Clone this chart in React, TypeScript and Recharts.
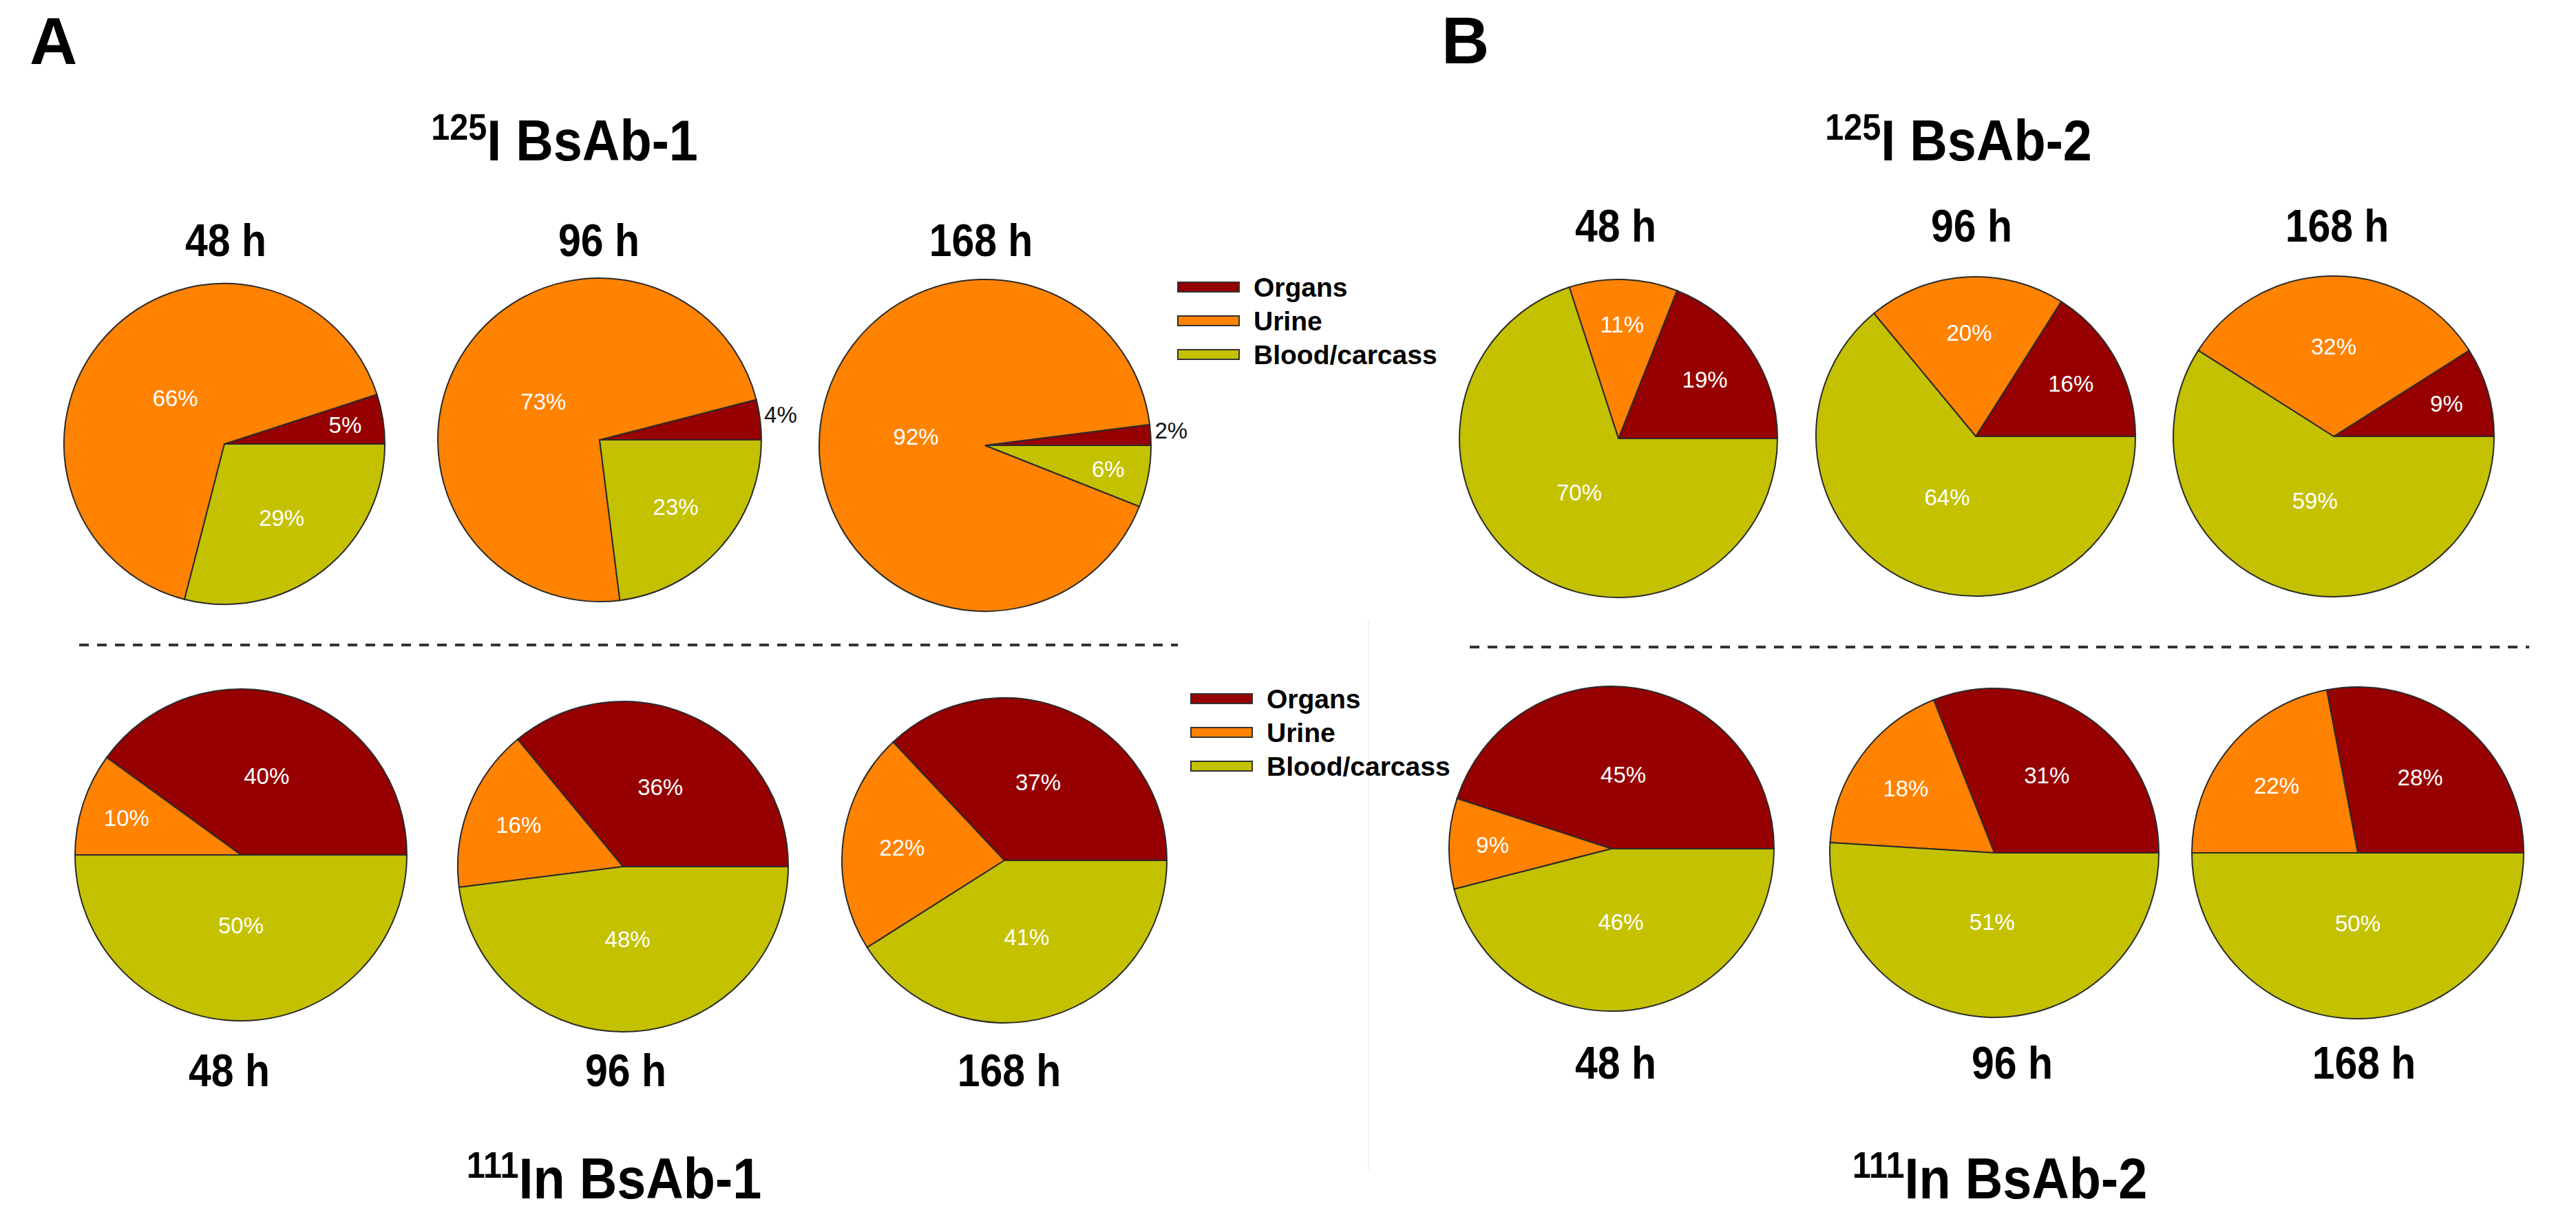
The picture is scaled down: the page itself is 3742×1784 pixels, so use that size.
import React from "react";
import { PieChart, Pie, Cell } from "recharts";

const categories = ["Organs", "Urine", "Blood/carcass"];
const colors = ["#960000", "#FF8200", "#C4C100"];
const timePoints = ["48 h", "96 h", "168 h"];

// 125I BsAb-1 (panel A, top)
const organsI125Ab1 = [5, 4, 2];
const urineI125Ab1 = [66, 73, 92];
const bloodI125Ab1 = [29, 23, 6];

// 111In BsAb-1 (panel A, bottom)
const organsIn111Ab1 = [40, 36, 37];
const urineIn111Ab1 = [10, 16, 22];
const bloodIn111Ab1 = [50, 48, 41];

// 125I BsAb-2 (panel B, top)
const organsI125Ab2 = [19, 16, 9];
const urineI125Ab2 = [11, 20, 32];
const bloodI125Ab2 = [70, 64, 59];

// 111In BsAb-2 (panel B, bottom)
const organsIn111Ab2 = [45, 31, 28];
const urineIn111Ab2 = [9, 18, 22];
const bloodIn111Ab2 = [46, 51, 50];

const W = 3742;
const H = 1784;
const font = "'Liberation Sans', Arial, sans-serif";

const buildPies = (organs, urine, blood) =>
  timePoints.map((t, i) => [
    { name: categories[0], value: organs[i] },
    { name: categories[1], value: urine[i] },
    { name: categories[2], value: blood[i] },
  ]);

// pie centres / radii, row by row
const groups = [
  {
    pies: buildPies(organsI125Ab1, urineI125Ab1, bloodI125Ab1),
    pos: [[326, 645, 233], [871, 639, 235], [1431, 647, 241]],
  },
  {
    pies: buildPies(organsI125Ab2, urineI125Ab2, bloodI125Ab2),
    pos: [[2351, 637, 231], [2870, 634, 232], [3390, 634, 233]],
  },
  {
    pies: buildPies(organsIn111Ab1, urineIn111Ab1, bloodIn111Ab1),
    pos: [[350, 1242, 241], [905, 1259, 240], [1459, 1250, 236]],
  },
  {
    pies: buildPies(organsIn111Ab2, urineIn111Ab2, bloodIn111Ab2),
    pos: [[2341, 1233, 236], [2897, 1239, 239], [3425, 1239, 241]],
  },
];

const RAD = Math.PI / 180;

const renderLabel = (props) => {
  const { cx, cy, midAngle, outerRadius, percent, value } = props;
  if (percent < 0.045) {
    const r = outerRadius + 6;
    return (
      <text
        x={cx + r * Math.cos(-midAngle * RAD)}
        y={cy + r * Math.sin(-midAngle * RAD) - 6}
        fill="#111"
        textAnchor="start"
        dominantBaseline="central"
        fontSize={33}
        fontFamily={font}
      >
        {value}%
      </text>
    );
  }
  const r = outerRadius * Math.max(0.42, 0.8 - 0.75 * percent);
  return (
    <text
      x={cx + r * Math.cos(-midAngle * RAD)}
      y={cy + r * Math.sin(-midAngle * RAD)}
      fill="#fff"
      textAnchor="middle"
      dominantBaseline="central"
      fontSize={33}
      fontFamily={font}
    >
      {value}%
    </text>
  );
};

// bold headings, squeezed horizontally to look like a condensed face
const Title = ({ x, y, sup, main }) => (
  <text
    transform={`translate(${x},${y}) scale(0.9,1)`}
    textAnchor="middle"
    fontFamily={font}
    fontWeight="bold"
    fill="#000"
  >
    <tspan fontSize={54} dy={-30}>{sup}</tspan>
    <tspan fontSize={84} dy={30}>{main}</tspan>
  </text>
);

const Legend = ({ x, y }) => (
  <g>
    {categories.map((c, i) => (
      <g key={c}>
        <rect x={x} y={y + i * 49 - 7} width={89} height={14} fill={colors[i]} stroke="#333" strokeWidth={2} />
        <text x={x + 110} y={y + i * 49} dominantBaseline="central" fontSize={39} fontWeight="bold" fontFamily={font} fill="#000">
          {c}
        </text>
      </g>
    ))}
  </g>
);

const timeLabels = [
  { xs: [328, 870, 1425], y: 372 },
  { xs: [2347, 2864, 3395], y: 351 },
  { xs: [333, 909, 1466], y: 1578 },
  { xs: [2347, 2923, 3434], y: 1567 },
];

export default function App() {
  return (
    <div style={{ position: "absolute", left: 0, top: 0, width: W, height: H, background: "#fff" }}>
      <PieChart width={W} height={H} margin={{ top: 0, right: 0, bottom: 0, left: 0 }}>
        {groups.map((g, gi) =>
          g.pies.map((data, pi) => (
            <Pie
              key={`${gi}-${pi}`}
              data={data}
              dataKey="value"
              nameKey="name"
              cx={g.pos[pi][0]}
              cy={g.pos[pi][1]}
              outerRadius={g.pos[pi][2]}
              startAngle={0}
              endAngle={360}
              stroke="#2b2b2b"
              strokeWidth={2}
              label={renderLabel}
              labelLine={false}
              isAnimationActive={false}
            >
              {data.map((d, i) => (
                <Cell key={d.name} fill={colors[i]} />
              ))}
            </Pie>
          ))
        )}
      </PieChart>
      <svg width={W} height={H} style={{ position: "absolute", left: 0, top: 0, pointerEvents: "none" }}>
        <text x={43} y={93} fontSize={96} fontWeight="bold" fontFamily={font}>A</text>
        <text x={2094} y={92} fontSize={96} fontWeight="bold" fontFamily={font}>B</text>
        <Title x={820} y={233} sup="125" main="I BsAb-1" />
        <Title x={2845} y={233} sup="125" main="I BsAb-2" />
        <Title x={892} y={1741} sup="111" main="In BsAb-1" />
        <Title x={2905} y={1741} sup="111" main="In BsAb-2" />
        {timeLabels.map((row, ri) =>
          row.xs.map((x, i) => (
            <text
              key={`${ri}-${i}`}
              transform={`translate(${x},${row.y}) scale(0.88,1)`}
              textAnchor="middle"
              fontSize={67}
              fontWeight="bold"
              fontFamily={font}
            >
              {timePoints[i]}
            </text>
          ))
        )}
        <line x1={115} y1={937} x2={1711} y2={937} stroke="#333" strokeWidth={4} strokeDasharray="14 12" />
        <line x1={2135} y1={940} x2={3674} y2={940} stroke="#333" strokeWidth={4} strokeDasharray="14 12" />
        <line x1={1988} y1={900} x2={1988} y2={1700} stroke="#f2f2f2" strokeWidth={2} />
        <Legend x={1711} y={417} />
        <Legend x={1730} y={1015} />
      </svg>
    </div>
  );
}
